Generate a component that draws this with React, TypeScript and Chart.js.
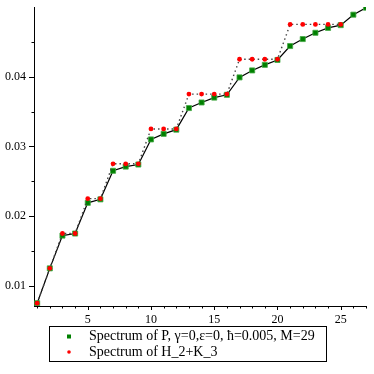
import React, { useEffect, useRef } from "react";
import { Chart, registerables } from "chart.js";

Chart.register(...registerables);

// ---- data ----
const indices = [1, 2, 3, 4, 5, 6, 7, 8, 9, 10, 11, 12, 13, 14, 15, 16, 17, 18, 19, 20, 21, 22, 23, 24, 25, 26, 27];
const pSpectrum = [
  0.0075, 0.0125, 0.0172, 0.0175, 0.0219, 0.0224, 0.0265, 0.0271, 0.0274,
  0.031, 0.0318, 0.0324, 0.0355, 0.0363, 0.037, 0.0374, 0.0399, 0.0409,
  0.0417, 0.0424, 0.0444, 0.0454, 0.0463, 0.047, 0.0474, 0.0489, 0.0499,
];
const hkIndices = [1, 2, 3, 4, 5, 6, 7, 8, 9, 10, 11, 12, 13, 14, 15, 16, 17, 18, 19, 20, 21, 22, 23, 24, 25];
const hkSpectrum = [
  0.0075, 0.0125, 0.0175, 0.0175, 0.0225, 0.0225, 0.0275, 0.0275, 0.0275,
  0.0325, 0.0325, 0.0325, 0.0375, 0.0375, 0.0375, 0.0375, 0.0425, 0.0425,
  0.0425, 0.0425, 0.0475, 0.0475, 0.0475, 0.0475, 0.0475,
];
const xMajorTicks = [5, 10, 15, 20, 25];
const xMinorTicks = indices;
const yMajorTicks = [0.01, 0.02, 0.03, 0.04];
const yMinorTicks = [0.01, 0.015, 0.02, 0.025, 0.03, 0.035, 0.04, 0.045];
const seriesLabels = [
  "Spectrum of P, γ=0,ε=0, ħ=0.005, M=29",
  "Spectrum of H_2+K_3",
];

const FONT = "'Liberation Serif', 'Times New Roman', serif";

const tickMarksPlugin = {
  id: "tickMarks",
  afterDraw(chart: any) {
    const { ctx, chartArea } = chart;
    const xs = chart.scales.x;
    const ys = chart.scales.y;
    ctx.save();
    ctx.strokeStyle = "#000";
    ctx.lineWidth = 1;
    ctx.beginPath();
    xMinorTicks.forEach((v) => {
      const px = Math.round(xs.getPixelForValue(v)) + 0.5;
      const len = xMajorTicks.includes(v) ? 4 : 2.5;
      ctx.moveTo(px, chartArea.bottom);
      ctx.lineTo(px, chartArea.bottom + len);
    });
    yMinorTicks.forEach((v) => {
      const py = Math.round(ys.getPixelForValue(v)) + 0.5;
      const major = yMajorTicks.some((m) => Math.abs(m - v) < 1e-9);
      const len = major ? 5 : 2.5;
      ctx.moveTo(chartArea.left, py);
      ctx.lineTo(chartArea.left - len, py);
    });
    ctx.stroke();
    ctx.restore();
  },
};

const boxLegendPlugin = {
  id: "boxLegend",
  afterDraw(chart: any) {
    const { ctx, chartArea } = chart;
    const datasets = chart.data.datasets;
    ctx.save();
    ctx.font = `14px ${FONT}`;
    let maxW = 0;
    datasets.forEach((d: any) => {
      maxW = Math.max(maxW, ctx.measureText(d.label).width);
    });
    const w = Math.round(40 + maxW + 11);
    const h = 35;
    const left = Math.round(chart.width / 2 - w / 2);
    const top = Math.round(chartArea.bottom + 20);
    ctx.strokeStyle = "#000";
    ctx.lineWidth = 1;
    ctx.strokeRect(left + 0.5, top + 0.5, w, h);
    datasets.forEach((d: any, i: number) => {
      const cy = top + 10.5 + i * 15.5;
      const cx = left + 20;
      ctx.fillStyle = d.pointBackgroundColor;
      if (d.pointStyle === "rect") {
        ctx.fillRect(cx - 2, cy - 2, 4, 4);
      } else {
        ctx.beginPath();
        ctx.arc(cx, cy, 1.8, 0, Math.PI * 2);
        ctx.fill();
      }
      ctx.fillStyle = "#000";
      ctx.textBaseline = "middle";
      ctx.textAlign = "left";
      ctx.fillText(d.label, left + 40, cy);
    });
    ctx.restore();
  },
};

export default function App() {
  const canvasRef = useRef<HTMLCanvasElement>(null);

  useEffect(() => {
    if (!canvasRef.current) return;
    Chart.defaults.font.family = FONT;
    const chart = new Chart(canvasRef.current, {
      type: "scatter",
      data: {
        datasets: [
          {
            label: seriesLabels[0],
            data: indices.map((x, i) => ({ x, y: pSpectrum[i] })),
            showLine: true,
            borderColor: "#000",
            borderWidth: 1.2,
            pointStyle: "rect",
            pointRadius: 3.6,
            pointBackgroundColor: "#008000",
            pointBorderColor: "#44a844",
            pointBorderWidth: 0.8,
            order: 2,
          } as any,
          {
            label: seriesLabels[1],
            data: hkIndices.map((x, i) => ({ x, y: hkSpectrum[i] })),
            showLine: true,
            borderColor: "#444",
            borderWidth: 1.4,
            borderDash: [1.5, 3],
            pointStyle: "circle",
            pointRadius: 2.4,
            pointBackgroundColor: "#ff0000",
            pointBorderWidth: 0,
            order: 1,
          } as any,
        ],
      },
      options: {
        animation: false,
        responsive: false,
        devicePixelRatio: 1,
        layout: { padding: { top: 7, right: 8, bottom: 48, left: 0 } },
        plugins: {
          legend: { display: false },
          tooltip: { enabled: false },
        },
        scales: {
          x: {
            type: "linear",
            min: 0.75,
            max: 27,
            afterBuildTicks: (scale: any) => {
              scale.ticks = xMajorTicks.map((v) => ({ value: v }));
            },
            afterFit: (scale: any) => {
              scale.height = 20;
              scale.paddingLeft = 0;
              scale.paddingRight = 0;
            },
            grid: { display: false, drawTicks: false },
            border: { display: true, color: "#000", width: 1 },
            ticks: {
              autoSkip: false,
              maxRotation: 0,
              padding: 7,
              color: "#000",
              font: { family: FONT, size: 12 },
              callback: (v: any) => String(v),
            },
          },
          y: {
            type: "linear",
            min: 0.0071,
            max: 0.05,
            afterBuildTicks: (scale: any) => {
              scale.ticks = yMajorTicks.map((v) => ({ value: v }));
            },
            afterFit: (scale: any) => {
              scale.width = 34;
              scale.paddingTop = 0;
              scale.paddingBottom = 0;
            },
            grid: { display: false, drawTicks: false },
            border: { display: true, color: "#000", width: 1 },
            ticks: {
              autoSkip: false,
              padding: 8,
              color: "#000",
              font: { family: FONT, size: 12 },
              callback: (v: any) => Number(v).toFixed(2),
            },
          },
        },
      },
      plugins: [tickMarksPlugin, boxLegendPlugin],
    });
    return () => chart.destroy();
  }, []);

  return (
    <div style={{ position: "absolute", left: 0, top: 0, width: 374, height: 374, background: "#fff" }}>
      <canvas ref={canvasRef} width={374} height={374} />
    </div>
  );
}
